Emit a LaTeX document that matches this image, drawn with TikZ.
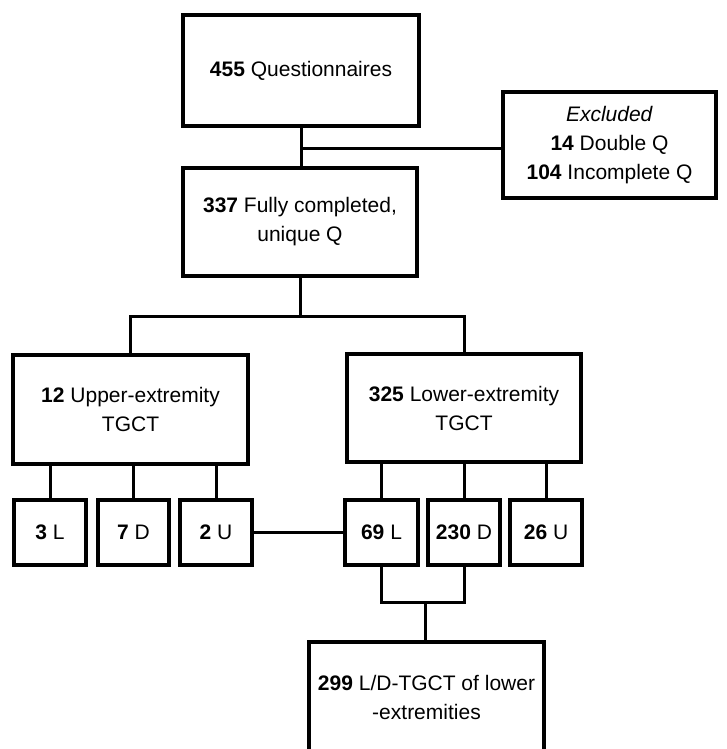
\documentclass[tikz,border=0pt]{standalone}
\usepackage{fontspec}
\setmainfont{Liberation Sans}
\begin{document}
\begin{tikzpicture}[x=1pt,y=-1pt,
  box/.style={draw, line width=4pt, align=center, inner sep=0pt,
    font=\fontsize{21}{29}\selectfont},
  leaf/.style={box, minimum width=72pt, minimum height=65pt},
  link/.style={line width=3pt}]
\useasboundingbox (0,0) rectangle (727,749);

\coordinate (sp) at (300,316);
\coordinate (jn) at (425,602);

\node[box, minimum width=236pt, minimum height=111pt] (qn) at (301,70.5) {\textbf{455} Questionnaires};
\node[box, minimum width=213pt, minimum height=106pt] (ex) at (609.5,145) {\textit{Excluded}\\\textbf{14} Double Q\\\textbf{104} Incomplete Q};
\node[box, minimum width=234pt, minimum height=108pt] (fc) at (300,222) {\textbf{337} Fully completed,\\unique Q};

\node[box, minimum width=235pt, minimum height=109pt] (ue) at (130.5,409.5) {\textbf{12} Upper-extremity\\TGCT};
\node[box, minimum width=234pt, minimum height=108pt] (le) at (464,408) {\textbf{325} Lower-extremity\\TGCT};

\node[leaf] (u1) at (50,532.5) {\textbf{3} L};
\node[leaf, minimum width=71pt] (u2) at (133.5,532.5) {\textbf{7} D};
\node[leaf] (u3) at (216,532.5) {\textbf{2} U};
\node[leaf, minimum width=73pt] (l1) at (381.5,532.5) {\textbf{69} L};
\node[leaf] (l2) at (464,532.5) {\textbf{230} D};
\node[leaf] (l3) at (546,532.5) {\textbf{26} U};

\node[box, minimum width=235pt, minimum height=110pt] (ld) at (426.5,697) {\textbf{299} L/D-TGCT of lower\\-extremities};

% main line
\draw[link] (qn.south) -- (qn.south |- fc.north);
\draw[link] (qn.south |- 0,148) -- (ex.west |- 0,148);
\draw[link] (fc.south) -- (sp);
\draw[link] (ue.north) |- (sp) -| (le.north);

% subtypes
\foreach \n in {u1,u2,u3}
  \draw[link] (\n.north) -- (\n.north |- ue.south);
\foreach \n in {l1,l2,l3}
  \draw[link] (\n.north) -- (\n.north |- le.south);
\draw[link] (u3.east) -- (l1.west);

% L/D
\draw[link] (l1.south) |- (jn) -| (l2.south);
\draw[link] (jn) -- (jn |- ld.north);
\end{tikzpicture}
\end{document}
